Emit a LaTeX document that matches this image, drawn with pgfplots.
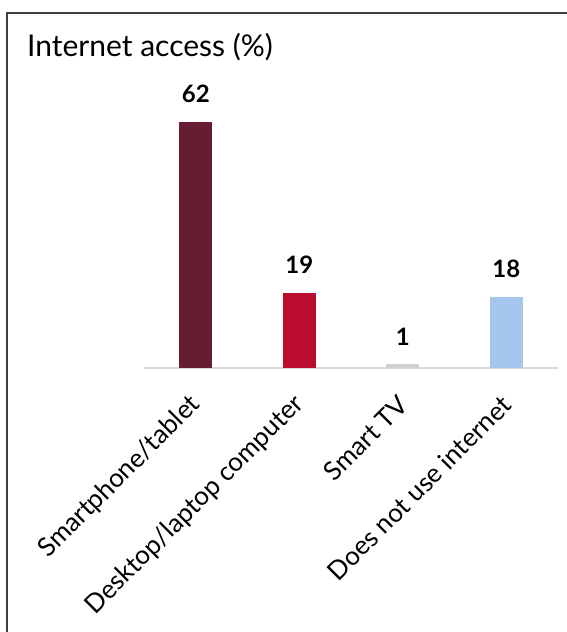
\documentclass[border=0pt]{standalone}
\usepackage{fontspec}
\setmainfont{Lato}
\usepackage{pgfplots}
\pgfplotsset{compat=1.18}
\definecolor{cA}{HTML}{661C31}
\definecolor{cB}{HTML}{BA0C2F}
\definecolor{cC}{HTML}{D0D0D0}
\definecolor{cD}{HTML}{A7C6ED}
\definecolor{frame}{HTML}{404040}
\begin{document}
\begin{tikzpicture}[x=1pt,y=1pt]
\path[use as bounding box] (0,0) rectangle (566,632);
\draw[color=frame, line width=2pt] (6.5,-20) -- (6.5,618.5) -- (590,618.5);
\node[anchor=base west, font=\fontsize{30}{36}\selectfont, inner sep=0pt] at (27,575) {Internet access (\%)};
\begin{axis}[
  at={(195.75pt,264pt)}, anchor=origin,
  scale only axis, width=414pt, height=277.9pt,
  xmin=-0.5, xmax=3.5, ymin=0, ymax=70,
  axis y line=none, axis x line*=bottom,
  x axis line style={draw=gray!30, line width=1.5pt},
  xtick={0,1,2,3},
  xticklabels={Smartphone/tablet, Desktop/laptop computer, Smart TV, Does not use internet},
  xticklabel style={xshift=3pt, yshift=-30pt, rotate=45, anchor=east, font=\fontsize{26}{30}\selectfont},
  major tick length=0pt,
  ybar, bar width=33pt, bar shift=0pt,
  clip=false,
  nodes near coords={\pgfmathprintnumber[assume math mode=true]{\pgfplotspointmeta}},
  every node near coord/.append style={font=\fontsize{24}{28}\selectfont\bfseries, anchor=base, yshift=19pt, inner sep=0pt},
]
\addplot[fill=cA, draw=none] coordinates {(0,62)};
\addplot[fill=cB, draw=none] coordinates {(1,19)};
\addplot[fill=cC, draw=none] coordinates {(2,1)};
\addplot[fill=cD, draw=none] coordinates {(3,18)};
\end{axis}
\end{tikzpicture}
\end{document}
